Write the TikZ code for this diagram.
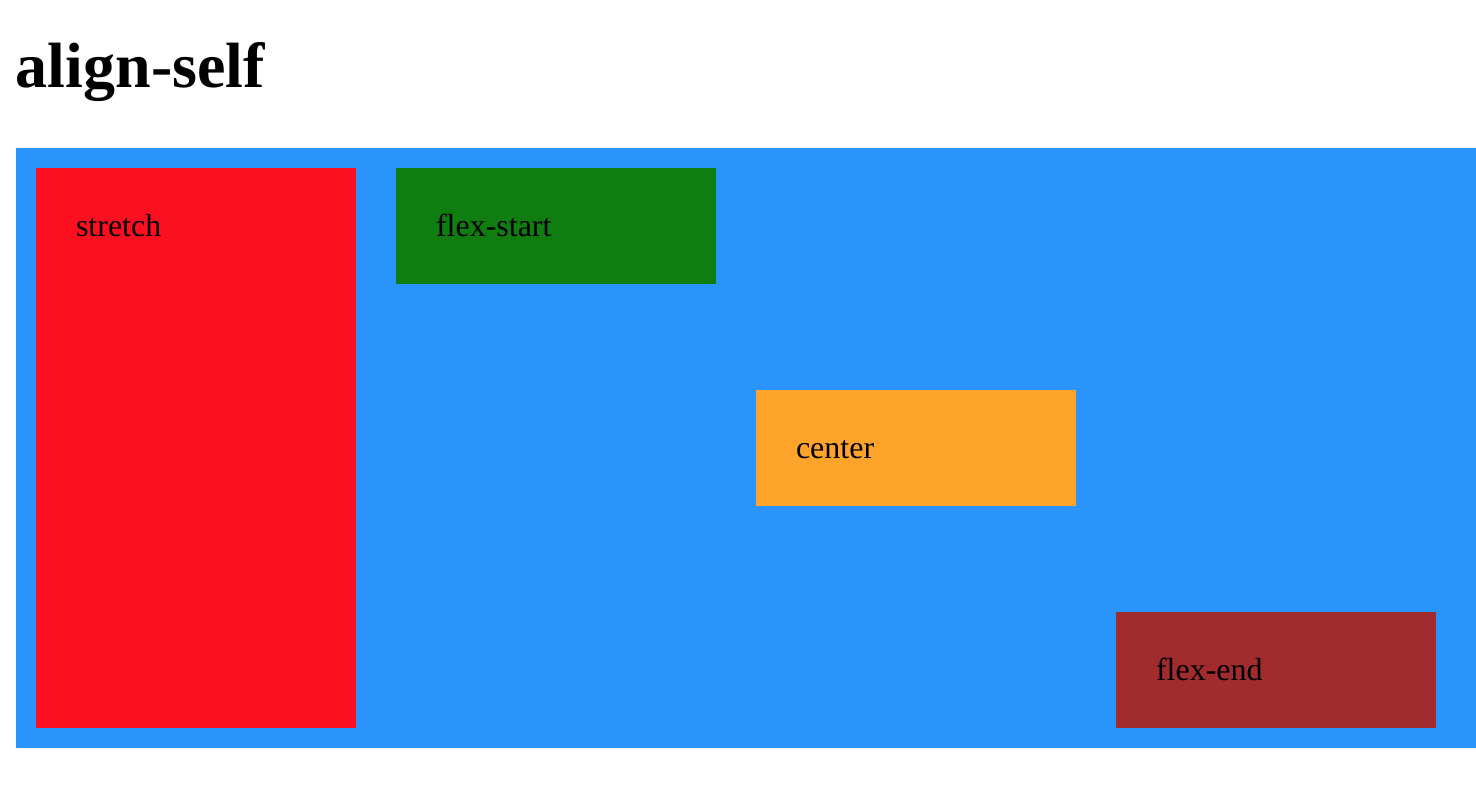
\documentclass[tikz,border=0pt]{standalone}
\usepackage{fontspec}
\setmainfont{Liberation Serif}
\usetikzlibrary{positioning}
\definecolor{flexblue}{RGB}{42,147,252}
\definecolor{flexred}{RGB}{252,16,31}
\definecolor{flexgreen}{RGB}{15,125,16}
\definecolor{flexorange}{RGB}{254,164,43}
\definecolor{flexbrown}{RGB}{162,43,46}
\tikzset{every node/.append style={inner sep=0pt,outer sep=0pt}}
\tikzset{item/.style={anchor=north west,minimum width=320pt,minimum height=116pt}}
\tikzset{itemtext/.style={anchor=base west,font=\fontsize{32}{36}\selectfont}}

\begin{document}
\begin{tikzpicture}[x=1pt,y=-1pt]
  \useasboundingbox (0,0) rectangle (1476,804);
  \node[anchor=base west,font=\fontsize{64}{72}\selectfont\bfseries] (title) at (16,87) {align-self};
  \node[anchor=north west,fill=flexblue,minimum width=1460pt,minimum height=600pt] (box) at (16,148) {};
  \node[item,fill=flexred,minimum height=560pt] (stretch) at (36,168) {};
  \node[item,fill=flexgreen] (start) at (396,168) {};
  \node[item,fill=flexorange] (center) at (756,390) {};
  \node[item,fill=flexbrown] (end) at (1116,612) {};
  \foreach \n/\t in {stretch/stretch, start/flex-start, center/center, end/flex-end}{
    \node[itemtext] (\n-text) at ([shift={(40pt,-68pt)}]\n.north west) {\t};
  };
\end{tikzpicture}
\end{document}
